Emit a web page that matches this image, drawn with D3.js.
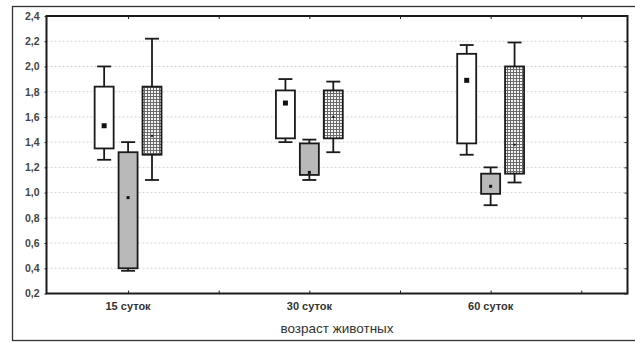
<!DOCTYPE html>
<html>
<head>
<meta charset="utf-8">
<script src="https://cdn.jsdelivr.net/npm/d3@7"></script>
<style>
  html, body { margin: 0; padding: 0; background: #fff; }
  svg { display: block; }
</style>
</head>
<body>
<svg id="chart" width="635" height="343"></svg>
<script>
// Age groups along the x axis
const categories = ["15 суток", "30 суток", "60 суток"];
const yTicks = [0.2, 0.4, 0.6, 0.8, 1.0, 1.2, 1.4, 1.6, 1.8, 2.0, 2.2, 2.4];
const xTitle = "возраст животных";

// Box statistics per series (one value per age group)
const whiteMin = [1.26, 1.40, 1.30];
const whiteQ1  = [1.35, 1.43, 1.39];
const whiteMid = [1.53, 1.71, 1.89];
const whiteQ3  = [1.84, 1.81, 2.10];
const whiteMax = [2.00, 1.90, 2.17];

const grayMin = [0.38, 1.10, 0.90];
const grayQ1  = [0.40, 1.14, 0.99];
const grayMid = [0.96, 1.16, 1.05];
const grayQ3  = [1.32, 1.39, 1.15];
const grayMax = [1.40, 1.42, 1.20];

const hatchMin = [1.10, 1.32, 1.08];
const hatchQ1  = [1.30, 1.43, 1.15];
const hatchMid = [1.45, 1.60, 1.38];
const hatchQ3  = [1.84, 1.81, 2.00];
const hatchMax = [2.22, 1.88, 2.19];

const svg = d3.select("#chart");
const font = "'Liberation Sans', Arial, sans-serif";

const plot = { left: 46.5, right: 627.5, top: 16, bottom: 293.5 };

const x = d3.scaleLinear().domain([0.55, 3.755]).range([plot.left, plot.right]);
const y = d3.scaleLinear().domain([0.2, 2.4]).range([plot.bottom, plot.top]);

// crosshatch fill
const defs = svg.append("defs");
const pat = defs.append("pattern")
  .attr("id", "hatch").attr("patternUnits", "userSpaceOnUse")
  .attr("width", 3).attr("height", 3);
pat.append("rect").attr("width", 3).attr("height", 3).attr("fill", "#f4f4f4");
pat.append("line").attr("x1", 0.5).attr("x2", 0.5).attr("y1", 0).attr("y2", 3)
  .attr("stroke", "#6a6a6a").attr("stroke-width", 1);
pat.append("line").attr("x1", 0).attr("x2", 3).attr("y1", 0.5).attr("y2", 0.5)
  .attr("stroke", "#6a6a6a").attr("stroke-width", 1);

// outer frame
svg.append("rect")
  .attr("x", 12.5).attr("y", 6.5).attr("width", 640).attr("height", 334)
  .attr("fill", "none").attr("stroke", "#333").attr("stroke-width", 1.3);

// dotted grid
svg.append("g").selectAll("line").data(yTicks.slice(1, -1)).join("line")
  .attr("x1", plot.left).attr("x2", plot.right)
  .attr("y1", d => y(d)).attr("y2", d => y(d))
  .attr("stroke", "#d4d4d4").attr("stroke-width", 1)
  .attr("stroke-dasharray", "2,2");

// plot frame
svg.append("rect")
  .attr("x", plot.left).attr("y", plot.top)
  .attr("width", plot.right - plot.left).attr("height", plot.bottom - plot.top)
  .attr("fill", "none").attr("stroke", "#1a1a1a").attr("stroke-width", 2);

// y axis labels and ticks
const yAxis = d3.axisLeft(y).tickValues(yTicks)
  .tickFormat(d => d3.format(".1f")(d).replace(".", ","))
  .tickSize(2).tickPadding(5);
const gy = svg.append("g").attr("transform", `translate(${plot.left},0)`).call(yAxis);
gy.select(".domain").remove();
gy.selectAll(".tick line").attr("stroke", "#222");
gy.selectAll(".tick text").attr("font-family", font).attr("font-size", 10.5)
  .attr("font-weight", "bold").attr("fill", "#444");

// right axis inward ticks
const gr = svg.append("g").attr("transform", `translate(${plot.right},0)`)
  .call(d3.axisLeft(y).tickValues(yTicks).tickSize(3).tickFormat(""));
gr.select(".domain").remove();
gr.selectAll(".tick line").attr("stroke", "#222");

// x axis ticks at group centers and midpoints, bottom and top edges
const xTickVals = [1, 1.5, 2, 2.5, 3, 3.5];
const gx = svg.append("g").attr("transform", `translate(0,${plot.bottom})`)
  .call(d3.axisTop(x).tickValues(xTickVals).tickSize(3).tickFormat(""));
gx.select(".domain").remove();
gx.selectAll(".tick line").attr("stroke", "#222");
const gt = svg.append("g").attr("transform", `translate(0,${plot.top})`)
  .call(d3.axisBottom(x).tickValues(xTickVals).tickSize(3).tickFormat(""));
gt.select(".domain").remove();
gt.selectAll(".tick line").attr("stroke", "#222");

svg.append("g").selectAll("text").data(categories).join("text")
  .attr("x", (d, i) => x(i + 1)).attr("y", 310)
  .attr("text-anchor", "middle")
  .attr("font-family", font).attr("font-size", 11).attr("font-weight", "bold")
  .attr("fill", "#333").text(d => d);

svg.append("text")
  .attr("x", (plot.left + plot.right) / 2).attr("y", 333)
  .attr("text-anchor", "middle")
  .attr("font-family", font).attr("font-size", 13.5).attr("fill", "#333")
  .text(xTitle);

// box series
const series = [
  { off: -0.132, fill: "#ffffff", mark: 5, mid: whiteMid, min: whiteMin, q1: whiteQ1, q3: whiteQ3, max: whiteMax },
  { off: 0,      fill: "#b9b9b9", mark: 3, mid: grayMid,  min: grayMin,  q1: grayQ1,  q3: grayQ3,  max: grayMax },
  { off: 0.132,  fill: "url(#hatch)", mark: 2, mid: hatchMid, min: hatchMin, q1: hatchQ1, q3: hatchQ3, max: hatchMax }
];
const boxW = 19, capW = 14;
const stroke = "#1a1a1a";

series.forEach(s => {
  const g = svg.append("g");
  categories.forEach((c, i) => {
    const cx = x(i + 1 + s.off);
    // whiskers
    g.append("line").attr("x1", cx).attr("x2", cx)
      .attr("y1", y(s.max[i])).attr("y2", y(s.q3[i]))
      .attr("stroke", stroke).attr("stroke-width", 1.8);
    g.append("line").attr("x1", cx).attr("x2", cx)
      .attr("y1", y(s.q1[i])).attr("y2", y(s.min[i]))
      .attr("stroke", stroke).attr("stroke-width", 1.8);
    [s.max[i], s.min[i]].forEach(v => {
      g.append("line").attr("x1", cx - capW / 2).attr("x2", cx + capW / 2)
        .attr("y1", y(v)).attr("y2", y(v))
        .attr("stroke", stroke).attr("stroke-width", 1.8);
    });
    // box
    g.append("rect")
      .attr("x", cx - boxW / 2).attr("width", boxW)
      .attr("y", y(s.q3[i])).attr("height", y(s.q1[i]) - y(s.q3[i]))
      .attr("fill", s.fill).attr("stroke", stroke).attr("stroke-width", 1.8);
    // central marker
    g.append("rect")
      .attr("x", cx - s.mark / 2).attr("y", y(s.mid[i]) - s.mark / 2)
      .attr("width", s.mark).attr("height", s.mark).attr("fill", "#111");
  });
});
</script>
</body>
</html>
